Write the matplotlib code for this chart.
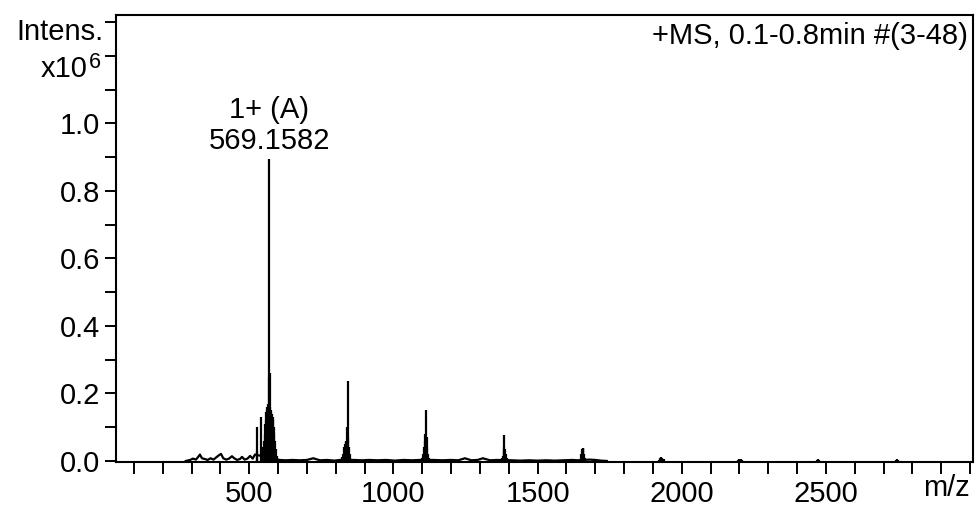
import matplotlib
matplotlib.use("Agg")
import matplotlib.pyplot as plt
from matplotlib.ticker import MultipleLocator

plt.rcParams['font.family'] = ['Liberation Sans', 'DejaVu Sans']

# peak sticks (m/z, intensity x10^6)
peak_mz = [526, 528, 541, 543, 548, 551, 553, 555, 557, 559, 561, 563, 565, 567, 569, 571, 573, 575, 577, 579,
           581, 583, 585, 587, 589, 592, 595, 598,
           822, 826, 830, 832, 835, 837, 839, 841, 843, 845, 848, 851,
           1100, 1104, 1107, 1109, 1111, 1113, 1115, 1117, 1120, 1124,
           1376, 1380, 1382, 1384, 1385, 1387, 1389, 1393,
           1648, 1652, 1654, 1656, 1657, 1659, 1661, 1665,
           1922, 1925, 1929, 1933, 1937,
           2194, 2197, 2201, 2205, 2209,
           2470, 2473, 2477,
           2742, 2745, 2749]
peak_int = [0.10, 0.03, 0.13, 0.04, 0.03, 0.06, 0.08, 0.11, 0.12, 0.145, 0.15, 0.16, 0.17, 0.25, 0.895, 0.26,
            0.16, 0.15, 0.145, 0.14, 0.13, 0.12, 0.10, 0.08, 0.06, 0.035, 0.015, 0.008,
            0.012, 0.02, 0.04, 0.05, 0.055, 0.06, 0.10, 0.236, 0.07, 0.04, 0.02, 0.01,
            0.01, 0.02, 0.04, 0.06, 0.08, 0.152, 0.07, 0.04, 0.02, 0.01,
            0.008, 0.015, 0.03, 0.04, 0.078, 0.035, 0.02, 0.01,
            0.006, 0.02, 0.035, 0.037, 0.039, 0.035, 0.02, 0.008,
            0.004, 0.009, 0.012, 0.01, 0.005,
            0.003, 0.006, 0.007, 0.006, 0.003,
            0.003, 0.005, 0.004,
            0.003, 0.005, 0.003]

# baseline noise
noise_mz = [280, 295, 305, 315, 322, 329, 336, 345, 356, 366, 376, 386, 395, 402, 410, 420, 430, 440, 448, 458,
            468, 475, 484, 494, 503, 512, 520,
            605, 625, 650, 675, 700, 722, 745, 770, 795, 815,
            865, 890, 915, 945, 975, 1005, 1035, 1065, 1090,
            1140, 1170, 1200, 1225, 1248, 1270, 1292, 1310, 1335, 1360,
            1410, 1440, 1470, 1500, 1530, 1560, 1590, 1620, 1640,
            1680, 1700, 1720, 1740]
noise_int = [0.0, 0.003, 0.007, 0.004, 0.011, 0.019, 0.008, 0.006, 0.003, 0.008, 0.004, 0.011, 0.017, 0.021, 0.008,
             0.004, 0.007, 0.014, 0.008, 0.003, 0.006, 0.012, 0.004, 0.007, 0.015, 0.007, 0.019,
             0.003, 0.002, 0.003, 0.002, 0.003, 0.008, 0.002, 0.003, 0.001, 0.003,
             0.003, 0.002, 0.003, 0.002, 0.003, 0.001, 0.003, 0.002, 0.003,
             0.003, 0.002, 0.003, 0.002, 0.008, 0.002, 0.003, 0.008, 0.002, 0.003,
             0.002, 0.001, 0.002, 0.001, 0.002, 0.001, 0.002, 0.003, 0.002,
             0.004, 0.003, 0.001, 0.0]

base_peak_mz = 569
base_peak_int = 0.895
base_peak_label = "1+ (A)\n569.1582"
x_major = [500, 1000, 1500, 2000, 2500]
y_major = [0.0, 0.2, 0.4, 0.6, 0.8, 1.0]

fs = 21

fig = plt.figure(figsize=(9.79, 5.08), dpi=100)
ax = fig.add_axes([0.1185, 0.0906, 0.8754, 0.880])

ax.vlines(peak_mz, 0, peak_int, color='black', lw=1.6)
ax.plot(noise_mz, noise_int, color='black', lw=1.6)

ax.set_xlim(38, 3010)
ax.set_ylim(-0.003, 1.321)

ax.set_xticks(x_major)
ax.set_xticklabels([str(v) for v in x_major])
ax.xaxis.set_minor_locator(MultipleLocator(100))
ax.set_yticks(y_major)
ax.set_yticklabels([f"{v:.1f}" for v in y_major])
ax.yaxis.set_minor_locator(MultipleLocator(0.1))

ax.tick_params(axis='both', which='both', direction='out', width=1.4, color='black', labelsize=fs)
ax.tick_params(axis='x', which='both', length=8.5, pad=4.5)
ax.tick_params(axis='y', which='both', length=8, pad=3.5)
for sp in ax.spines.values():
    sp.set_linewidth(1.5)

ax.annotate(base_peak_label, xy=(base_peak_mz, base_peak_int), xytext=(0, 3),
            textcoords='offset points', ha='center', va='bottom', fontsize=fs, linespacing=1.1)

ax.text(0.9945, 0.985, "+MS, 0.1-0.8min #(3-48)", transform=ax.transAxes,
        ha='right', va='top', fontsize=fs)

# axis labels in Bruker style
fig.text(104 / 979, 1 - 40 / 508, "Intens.", ha='right', va='baseline', fontsize=fs)
fig.text(88 / 979, 1 - 77 / 508, "x10", ha='right', va='baseline', fontsize=fs)
fig.text(89 / 979, 1 - 68 / 508, "6", ha='left', va='baseline', fontsize=15.5)
ax.text(3000, -0.077, "m/z", transform=ax.get_xaxis_transform(),
        ha='right', va='baseline', fontsize=fs)

fig.savefig("out.png", dpi=100)
